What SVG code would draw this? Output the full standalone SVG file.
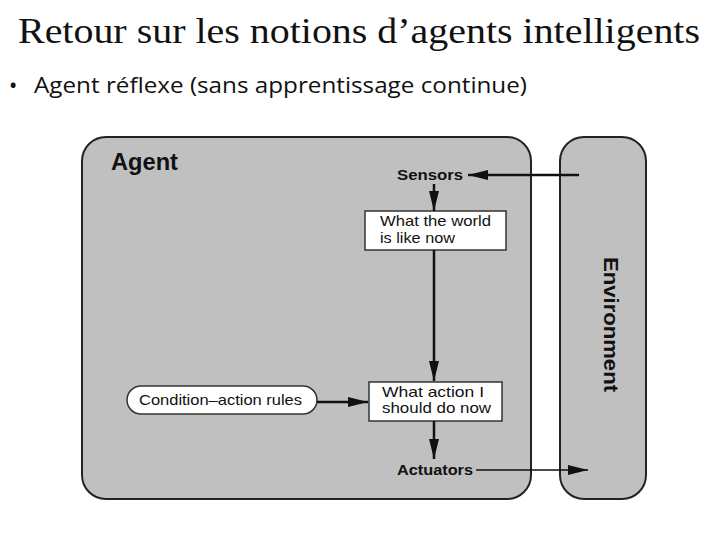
<svg xmlns="http://www.w3.org/2000/svg" width="720" height="540" viewBox="0 0 720 540">
<defs>
<style>
.pane{fill:#c0c0c0;stroke:#222;stroke-width:2}
.box{fill:#fff;stroke:#333;stroke-width:1.5}
.lbl{font-family:"Liberation Sans",Arial,sans-serif;font-size:15px;fill:#111}
.bold{font-family:"Liberation Sans",Arial,sans-serif;font-weight:bold;fill:#111}
.conn{stroke:#111;stroke-width:2.5;fill:none}
.thin{stroke:#111;stroke-width:1.5;fill:none}
</style>
<marker id="ah" viewBox="0 0 20 10" refX="20" refY="5" markerWidth="20" markerHeight="10" markerUnits="userSpaceOnUse" orient="auto">
<path d="M0,0 L20,5 L0,10 z" fill="#111"/>
</marker>
</defs>
<rect width="720" height="540" fill="#fff"/>
<text x="18" y="43" font-family="Liberation Serif,'Times New Roman',serif" font-size="36" textLength="682" lengthAdjust="spacingAndGlyphs" fill="#111">Retour sur les notions d’agents intelligents</text>
<text x="9" y="93" font-family="'Noto Sans','Open Sans',sans-serif" font-size="22" fill="#111">•</text>
<text x="34" y="93" font-family="'Open Sans','Noto Sans',sans-serif" font-size="21" textLength="493" lengthAdjust="spacingAndGlyphs" fill="#111">Agent réflexe (sans apprentissage continue)</text>

<g id="agent">
<rect class="pane" x="82" y="137" width="449" height="362" rx="24" ry="24"/>
<text class="bold" x="111" y="170" font-size="23" textLength="67" lengthAdjust="spacingAndGlyphs">Agent</text>
</g>
<g id="environment">
<rect class="pane" x="560" y="137" width="86" height="362" rx="24" ry="24"/>
<text class="bold" transform="translate(604,257) rotate(90)" font-size="20" textLength="135" lengthAdjust="spacingAndGlyphs">Environment</text>
</g>
<g id="sensors">
<text class="bold" x="397" y="180" font-size="15" textLength="66" lengthAdjust="spacingAndGlyphs">Sensors</text>
</g>
<g id="world">
<rect class="box" x="365" y="211" width="141" height="39"/>
<text class="lbl" x="380" y="226" textLength="111" lengthAdjust="spacingAndGlyphs">What the world</text>
<text class="lbl" x="380" y="243" textLength="75" lengthAdjust="spacingAndGlyphs">is like now</text>
</g>
<g id="rules">
<rect class="box" x="127" y="386" width="190" height="28" rx="14" ry="14"/>
<text class="lbl" x="139" y="405" textLength="163" lengthAdjust="spacingAndGlyphs">Condition–action rules</text>
</g>
<g id="action">
<rect class="box" x="369" y="382" width="133" height="39"/>
<text class="lbl" x="382" y="397" textLength="102" lengthAdjust="spacingAndGlyphs">What action I</text>
<text class="lbl" x="382" y="413" textLength="109" lengthAdjust="spacingAndGlyphs">should do now</text>
</g>
<g id="actuators">
<text class="bold" x="397" y="475" font-size="15" textLength="76" lengthAdjust="spacingAndGlyphs">Actuators</text>
</g>

<g id="connectors">
<line class="conn" x1="579" y1="175" x2="468" y2="175" marker-end="url(#ah)"/>
<line class="conn" x1="434" y1="184" x2="434" y2="211" marker-end="url(#ah)"/>
<line class="conn" x1="434" y1="250" x2="434" y2="381" marker-end="url(#ah)"/>
<line class="conn" x1="317" y1="402" x2="368" y2="402" marker-end="url(#ah)"/>
<line class="conn" x1="434" y1="421" x2="434" y2="459" marker-end="url(#ah)"/>
<line class="thin" x1="476" y1="470" x2="588" y2="470" marker-end="url(#ah)"/>
</g>
</svg>
